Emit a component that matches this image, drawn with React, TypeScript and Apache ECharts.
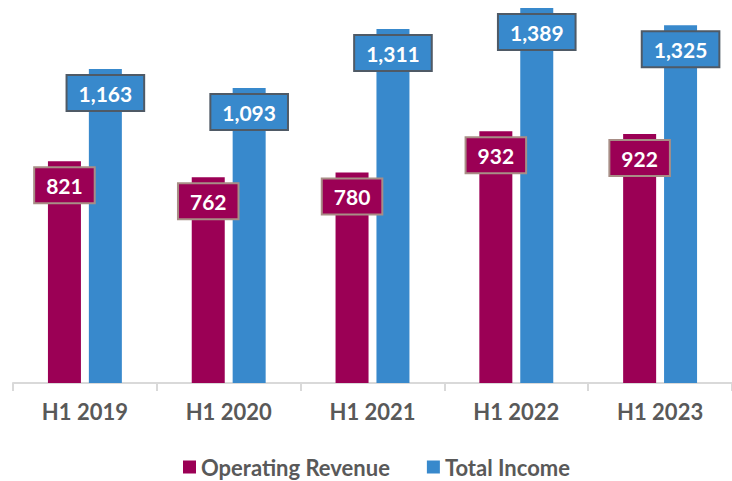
import React, { useEffect, useRef } from "react";
import * as echarts from "echarts";

const categories = ["H1 2019", "H1 2020", "H1 2021", "H1 2022", "H1 2023"];
const operatingRevenue = [821, 762, 780, 932, 922];
const totalIncome = [1163, 1093, 1311, 1389, 1325];
const seriesNames = ["Operating Revenue", "Total Income"];

const FONT = "Lato, 'Open Sans', sans-serif";

export default function App() {
  const ref = useRef<HTMLDivElement>(null);
  useEffect(() => {
    if (!ref.current) return;
    const chart = echarts.init(ref.current, null, { renderer: "svg" });
    const label = (border: string) => ({
      show: true,
      position: "insideTop",
      distance: 7,
      color: "#ffffff",
      fontFamily: FONT,
      fontWeight: "bold",
      fontSize: 21,
      backgroundColor: "inherit",
      borderColor: border,
      borderWidth: 2,
      padding: [7, 11, 6, 11],
      formatter: (p: any) => Number(p.value).toLocaleString("en-US"),
    });
    chart.setOption({
      animation: false,
      grid: { left: 13, right: -6, top: 5, bottom: 98, containLabel: false },
      legend: {
        top: 456,
        left: 183,
        padding: 0,
        itemWidth: 13,
        itemHeight: 13,
        itemGap: 37,
        icon: "rect",
        textStyle: { fontFamily: FONT, fontWeight: "bold", fontSize: 22, lineHeight: 22, color: "#595959" },
        data: seriesNames,
      },
      xAxis: {
        type: "category",
        data: categories,
        axisLine: { lineStyle: { color: "#D9D9D9", width: 2 } },
        axisTick: { show: true, length: 8, lineStyle: { color: "#D9D9D9", width: 2 } },
        axisLabel: { fontFamily: FONT, fontWeight: "bold", fontSize: 22, color: "#595959", margin: 17 },
      },
      yAxis: { type: "value", min: 0, max: 1400, show: false, splitLine: { show: false } },
      series: [
        {
          name: seriesNames[0],
          type: "bar",
          data: operatingRevenue,
          barWidth: 33,
          barGap: "24%",
          itemStyle: { color: "#9B0055" },
          label: label("#A88E86"),
        },
        {
          name: seriesNames[1],
          type: "bar",
          data: totalIncome,
          barWidth: 33,
          itemStyle: { color: "#3889CC" },
          label: label("#4F5A66"),
        },
      ],
    });
    return () => chart.dispose();
  }, []);
  return <div ref={ref} style={{ width: 732, height: 481, position: "absolute", left: 0, top: 0 }} />;
}
